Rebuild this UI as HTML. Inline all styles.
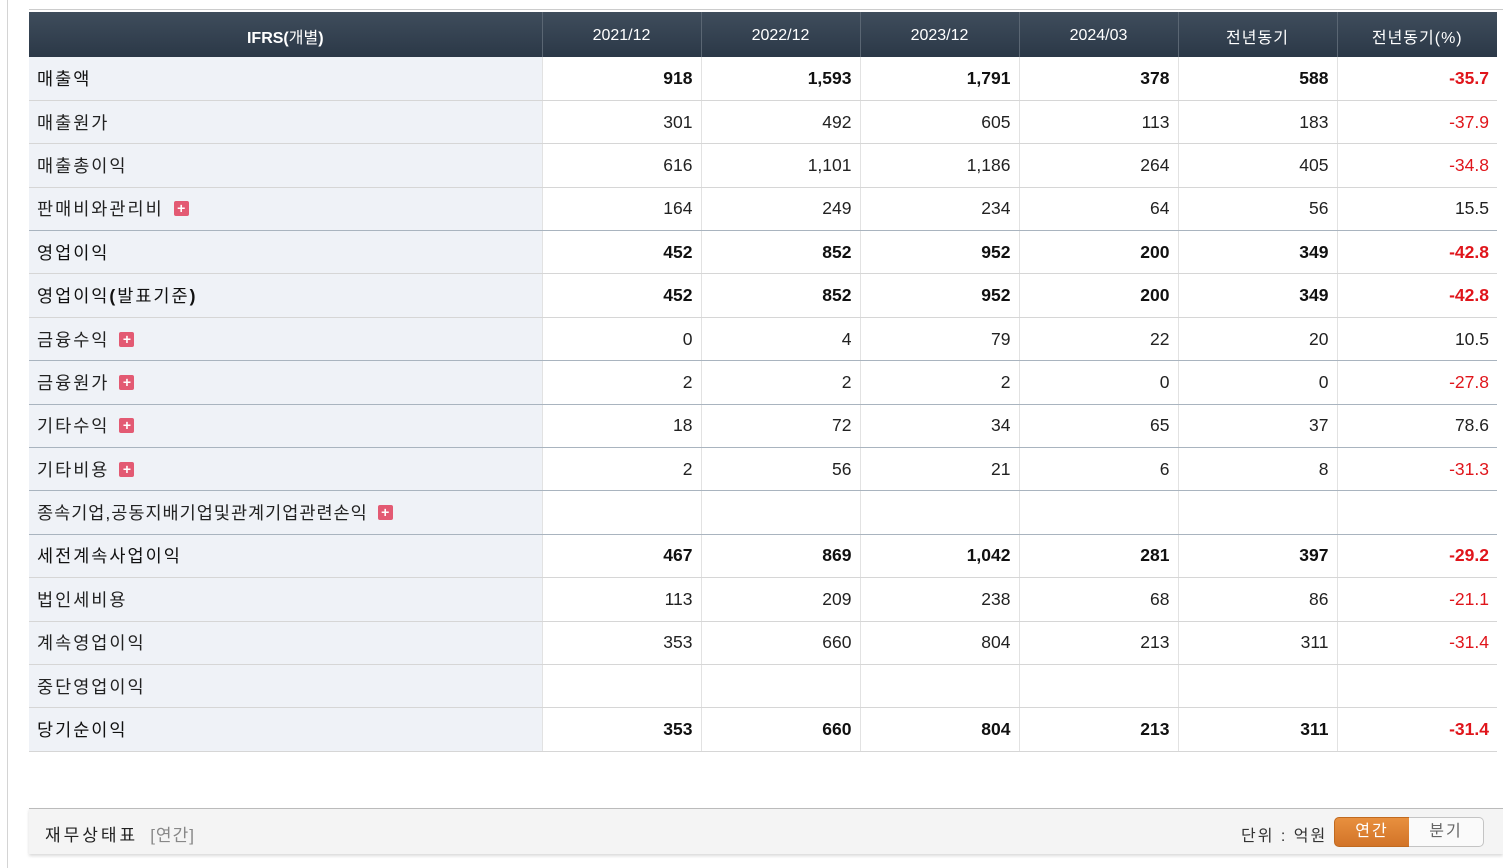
<!DOCTYPE html>
<html><head><meta charset="utf-8">
<style>
body{margin:0;width:1503px;height:868px;background:#fff;position:relative;overflow:hidden;font-family:"Liberation Sans","Noto Sans CJK KR","NanumGothic",sans-serif;}
.vl{position:absolute;left:7px;top:0;width:1px;height:868px;background:#d4d4d4}
.tl{position:absolute;left:29px;top:9px;width:1474px;height:1px;background:#ccc}
table{position:absolute;left:29px;top:12px;border-collapse:collapse;table-layout:fixed;width:1468px}
th{height:45px;background:linear-gradient(#3f4d5c,#2b3847);color:#fff;font-weight:normal;font-size:16px;border-left:1px solid #5a6673;padding:0;padding-top:2px;box-sizing:border-box}
th:first-child{border-left:none;font-weight:bold}
td{height:43.4px;padding:0 8px;font-size:17.5px;color:#222;border-bottom:1px solid #d6d6d6;border-left:1px solid #e2e2e2;text-align:right;background:#fff;box-sizing:border-box}
td.l{text-align:left;background:#eff2f7;border-left:none;color:#222;letter-spacing:2px}
tr.b td{font-weight:bold;color:#111}
tr.b td.l{font-weight:normal}
td.n,tr.b td.n{color:#e0151b}
tr.d td{border-bottom:1px solid #a9b4bf}
.sp{letter-spacing:1px}
.plus{display:inline-block;width:15px;height:15px;background:#e35a73;border-radius:2px;color:#fff;font-size:14px;line-height:15px;text-align:center;vertical-align:2px;margin-left:10px;font-weight:bold;letter-spacing:0}
.foot{position:absolute;left:29px;top:808px;width:1474px;height:45px;background:#f4f4f4;border-top:1px solid #bbb;box-shadow:0 2px 3px rgba(0,0,0,.15)}
.ft{position:absolute;left:16px;top:12px;font-size:17px;color:#222;letter-spacing:3px}
.ft span{color:#888;margin-left:12px;letter-spacing:1px}
.unit{position:absolute;left:1212px;top:13px;font-size:16px;color:#333;letter-spacing:2px}
.btn{position:absolute;top:8px;height:28px;width:74px;text-align:center;line-height:28px;font-size:16px;letter-spacing:2px}
.b1{left:1305px;background:linear-gradient(#e8903e,#d27428);color:#fff;border:1px solid #c06a20;border-radius:5px 0 0 5px}
.b2{left:1380px;background:#fafafa;color:#666;border:1px solid #c4c4c4;border-left:none;border-radius:0 5px 5px 0}
</style></head><body>
<div class="vl"></div>
<div class="tl"></div>
<table>
<colgroup><col style="width:513px"><col style="width:159px"><col style="width:159px"><col style="width:159px"><col style="width:159px"><col style="width:159px"><col style="width:160px"></colgroup>
<tr><th>IFRS(<span style="font-weight:normal">개별</span>)</th><th>2021/12</th><th>2022/12</th><th>2023/12</th><th>2024/03</th><th class="sp">전년동기</th><th class="sp">전년동기(%)</th></tr>
<tr class="b"><td class="l">매출액</td><td>918</td><td>1,593</td><td>1,791</td><td>378</td><td>588</td><td class="n">-35.7</td></tr>
<tr><td class="l">매출원가</td><td>301</td><td>492</td><td>605</td><td>113</td><td>183</td><td class="n">-37.9</td></tr>
<tr><td class="l">매출총이익</td><td>616</td><td>1,101</td><td>1,186</td><td>264</td><td>405</td><td class="n">-34.8</td></tr>
<tr class="d"><td class="l">판매비와관리비<span class="plus">+</span></td><td>164</td><td>249</td><td>234</td><td>64</td><td>56</td><td>15.5</td></tr>
<tr class="b"><td class="l">영업이익</td><td>452</td><td>852</td><td>952</td><td>200</td><td>349</td><td class="n">-42.8</td></tr>
<tr class="b"><td class="l">영업이익<b>(</b>발표기준<b>)</b></td><td>452</td><td>852</td><td>952</td><td>200</td><td>349</td><td class="n">-42.8</td></tr>
<tr class="d"><td class="l">금융수익<span class="plus">+</span></td><td>0</td><td>4</td><td>79</td><td>22</td><td>20</td><td>10.5</td></tr>
<tr class="d"><td class="l">금융원가<span class="plus">+</span></td><td>2</td><td>2</td><td>2</td><td>0</td><td>0</td><td class="n">-27.8</td></tr>
<tr class="d"><td class="l">기타수익<span class="plus">+</span></td><td>18</td><td>72</td><td>34</td><td>65</td><td>37</td><td>78.6</td></tr>
<tr class="d"><td class="l">기타비용<span class="plus">+</span></td><td>2</td><td>56</td><td>21</td><td>6</td><td>8</td><td class="n">-31.3</td></tr>
<tr class="d"><td class="l" style="letter-spacing:1px">종속기업,공동지배기업및관계기업관련손익<span class="plus">+</span></td><td></td><td></td><td></td><td></td><td></td><td></td></tr>
<tr class="b"><td class="l">세전계속사업이익</td><td>467</td><td>869</td><td>1,042</td><td>281</td><td>397</td><td class="n">-29.2</td></tr>
<tr><td class="l">법인세비용</td><td>113</td><td>209</td><td>238</td><td>68</td><td>86</td><td class="n">-21.1</td></tr>
<tr><td class="l">계속영업이익</td><td>353</td><td>660</td><td>804</td><td>213</td><td>311</td><td class="n">-31.4</td></tr>
<tr><td class="l">중단영업이익</td><td></td><td></td><td></td><td></td><td></td><td></td></tr>
<tr class="b"><td class="l">당기순이익</td><td>353</td><td>660</td><td>804</td><td>213</td><td>311</td><td class="n">-31.4</td></tr>
</table>
<div class="foot">
<div class="ft">재무상태표<span>[연간]</span></div>
<div class="unit">단위 : 억원</div>
<div class="btn b1">연간</div>
<div class="btn b2">분기</div>
</div>
</body></html>
